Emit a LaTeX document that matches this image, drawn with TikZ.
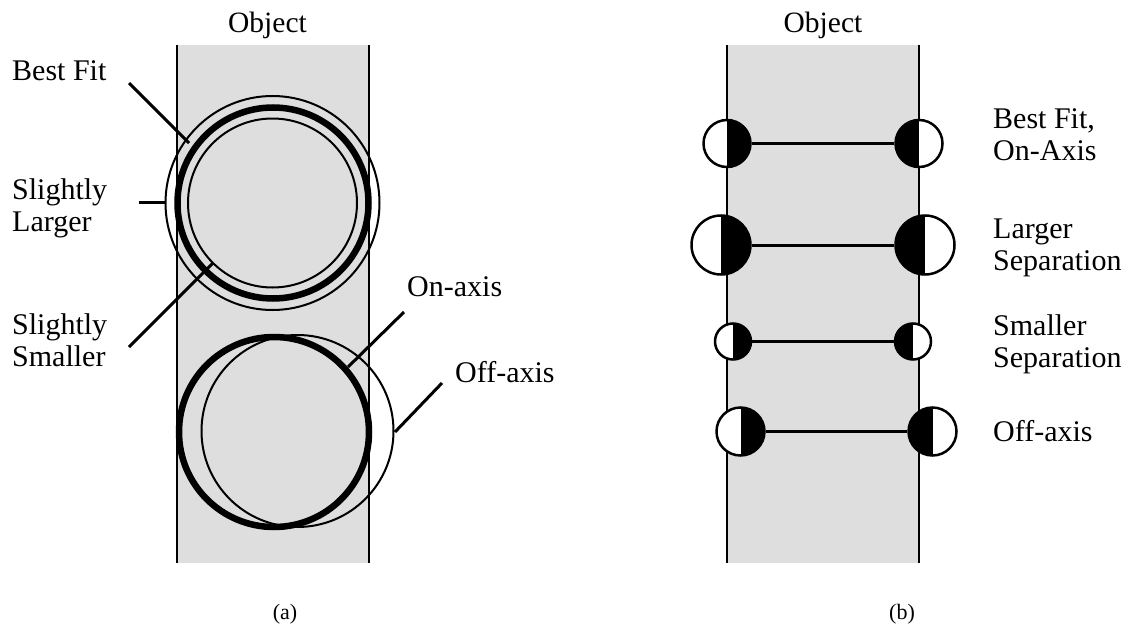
\documentclass[tikz,border=0pt]{standalone}
\usepackage{fontspec}
\setmainfont{Liberation Serif}
\definecolor{objgray}{RGB}{222,222,222}
\tikzset{
  lbl/.style={font=\fontsize{30}{32}\selectfont, inner sep=0pt, anchor=base west},
  ttl/.style={font=\fontsize{29.5}{32}\selectfont, inner sep=0pt, anchor=base},
  subcap/.style={font=\fontsize{22}{24}\selectfont, inner sep=0pt, anchor=base},
  leader/.style={line width=3pt},
  objedge/.style={line width=2pt},
  thinring/.style={line width=2pt},
  thickring/.style={line width=6.5pt},
  dot/.style={circle, draw, line width=2.5pt, fill=white, inner sep=0pt},
  ldot/.style={dot, path picture={\fill[black] (path picture bounding box.north) rectangle (path picture bounding box.south east);}},
  rdot/.style={dot, path picture={\fill[black] (path picture bounding box.north west) rectangle (path picture bounding box.south);}},
  bar/.style={line width=3pt},
}
\begin{document}
\begin{tikzpicture}[x=1pt,y=-1pt]
\useasboundingbox (0,0) rectangle (1130,626);

% ---------- panel (a) ----------
\fill[objgray] (177,45) rectangle (369,563);
\draw[objedge] (177,45) -- (177,563) (369,45) -- (369,563);
\node[ttl] (objA) at (267.5,33) {Object};

\draw[thinring] (272.5,203) circle[radius=107];
\draw[thickring] (273,203) circle[radius=95.5];
\draw[thinring] (272.5,203) circle[radius=84.5];

\draw[thickring] (274,432) circle[radius=95];
\draw[thinring] (297.5,431) circle[radius=96];

\coordinate (bfEnd) at (189,143);
\coordinate (slEnd) at (165,202);
\coordinate (ssEnd) at (213,263);
\coordinate (onEnd) at (348,367);
\coordinate (offEnd) at (395,432);

\node[lbl] (bf) at (12,81) {Best Fit};
\node[lbl] (sl1) at (12,199) {Slightly};
\node[lbl] (sl2) at (12,231) {Larger};
\node[lbl] (ss1) at (12,334) {Slightly};
\node[lbl] (ss2) at (12,366) {Smaller};
\node[lbl] (on) at (407,296) {On-axis};
\node[lbl] (off) at (455,382) {Off-axis};

\coordinate (bfStart) at (129,83);
\coordinate (slStart) at (139,202);
\coordinate (ssStart) at (129,347);
\coordinate (onStart) at (404,312);
\coordinate (offStart) at (442,383);

\draw[leader] (bfStart) -- (bfEnd);
\draw[leader] (slStart) -- (slEnd);
\draw[leader] (ssStart) -- (ssEnd);
\draw[leader] (onStart) -- (onEnd);
\draw[leader] (offStart) -- (offEnd);

\node[subcap] (capA) at (285,619) {(a)};

% ---------- panel (b) ----------
\fill[objgray] (727,45) rectangle (919,563);
\draw[objedge] (727,45) -- (727,563) (919,45) -- (919,563);
\node[ttl] (objB) at (823,33) {Object};

\node[ldot, minimum size=47pt] (l1) at (727,143.5) {};
\node[rdot, minimum size=47pt] (r1) at (919,143.5) {};
\node[ldot, minimum size=59pt] (l2) at (721,245) {};
\node[rdot, minimum size=59pt] (r2) at (925,245) {};
\node[ldot, minimum size=36pt] (l3) at (733,341.5) {};
\node[rdot, minimum size=36pt] (r3) at (913,341.5) {};
\node[ldot, minimum size=48pt] (l4) at (740.5,431.5) {};
\node[rdot, minimum size=48pt] (r4) at (932.5,431.5) {};

\draw[bar] (l1) -- (r1);
\draw[bar] (l2) -- (r2);
\draw[bar] (l3) -- (r3);
\draw[bar] (l4) -- (r4);

\node[lbl] (t1a) at (993,128) {Best Fit,};
\node[lbl] (t1b) at (993,160) {On-Axis};
\node[lbl] (t2a) at (993,238) {Larger};
\node[lbl] (t2b) at (993,270) {Separation};
\node[lbl] (t3a) at (993,335) {Smaller};
\node[lbl] (t3b) at (993,367) {Separation};
\node[lbl] (t4) at (993,441) {Off-axis};

\node[subcap] (capB) at (902,619) {(b)};
\end{tikzpicture}
\end{document}
